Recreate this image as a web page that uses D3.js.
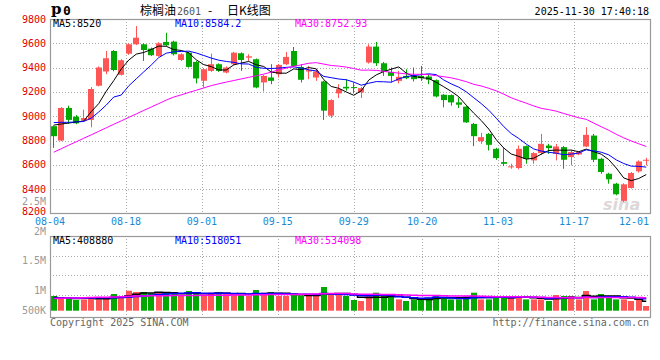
<!DOCTYPE html>
<html><head><meta charset="utf-8">
<script src="https://cdn.jsdelivr.net/npm/d3@7"></script>
<style>body{margin:0;background:#fff}svg{display:block}</style>
</head><body>
<script>
const dates = ["08-04","08-05","08-06","08-07","08-08","08-11","08-12","08-13","08-14","08-15",
"08-18","08-19","08-20","08-21","08-22","08-25","08-26","08-27","08-28","08-29",
"09-01","09-02","09-03","09-04","09-05","09-08","09-09","09-10","09-11","09-12",
"09-15","09-16","09-17","09-18","09-19","09-22","09-23","09-24","09-25","09-26",
"09-29","09-30","10-09","10-10","10-13","10-14","10-15","10-16","10-17",
"10-20","10-21","10-22","10-23","10-24","10-27","10-28","10-29","10-30","10-31",
"11-03","11-04","11-05","11-06","11-07","11-10","11-11","11-12","11-13","11-14",
"11-17","11-18","11-19","11-20","11-21","11-24","11-25","11-26","11-27","11-28","12-01"];
const open = [8918,8800,9068,8997,8964,8970,9251,9368,9537,9341,
9515,9592,9592,9556,9496,9611,9614,9463,9523,9447,
9292,9373,9428,9360,9428,9518,9482,9469,9278,9319,
9346,9428,9537,9406,9368,9319,9286,9005,9188,9242,
9240,9196,9442,9573,9436,9365,9291,9332,9332,
9332,9327,9297,9177,9174,9114,9079,8937,8795,8855,
8732,8623,8582,8574,8754,8637,8697,8759,8691,8746,
8664,8686,8751,8841,8650,8527,8445,8304,8410,8547,8637];
const high = [8925,9075,9087,9010,9054,9240,9410,9537,9545,9470,
9600,9742,9600,9565,9610,9687,9622,9518,9530,9455,
9395,9515,9435,9410,9530,9525,9510,9475,9340,9428,
9430,9529,9570,9428,9414,9387,9292,9140,9264,9305,
9278,9242,9592,9611,9447,9401,9373,9387,9401,
9414,9346,9303,9183,9180,9155,9085,8945,8863,8862,
8740,8738,8609,8759,8760,8705,8855,8773,8773,8755,
8724,8712,8910,8855,8658,8535,8452,8448,8541,8637,8658];
const low = [8740,8795,8937,8935,8958,8909,9245,9346,9370,9335,
9505,9585,9455,9495,9490,9578,9500,9455,9400,9270,
9237,9365,9365,9352,9420,9373,9455,9230,9204,9264,
9319,9420,9405,9278,9305,9291,8970,8986,9150,9210,
9188,9150,9433,9414,9332,9278,9270,9305,9286,
9291,9264,9155,9073,9087,9068,8945,8754,8773,8718,
8642,8590,8568,8563,8609,8609,8683,8691,8637,8568,
8596,8680,8746,8623,8527,8445,8350,8295,8405,8536,8596];
const close = [8836,9068,8970,8942,8985,9224,9401,9477,9380,9461,
9592,9646,9545,9502,9600,9584,9510,9510,9406,9311,
9387,9428,9373,9401,9523,9463,9493,9237,9332,9291,
9422,9488,9414,9300,9379,9368,9046,9133,9223,9229,
9232,9231,9573,9436,9365,9332,9324,9313,9305,
9313,9300,9163,9133,9114,9095,8950,8836,8828,8765,
8656,8609,8588,8732,8650,8697,8773,8738,8751,8642,
8705,8705,8847,8642,8541,8481,8358,8440,8533,8628,8642];
const volume = [625000,565000,565000,455000,480000,565000,480000,565000,710000,595000,
850000,795000,795000,735000,765000,765000,735000,625000,837000,765000,
625000,765000,765000,765000,667000,667000,625000,880000,765000,795000,
625000,625000,710000,625000,625000,625000,1007000,667000,710000,625000,
455000,412000,625000,765000,625000,595000,480000,412000,480000,
480000,552000,667000,595000,480000,480000,595000,765000,480000,480000,
595000,595000,595000,625000,480000,480000,480000,412000,667000,625000,
625000,480000,837000,480000,710000,595000,480000,480000,412000,455000,200000];
// moving-average values before a full window exists
const ma5Head = [8927,8936,8944,8953];
const ma10Head = [8948,8950,8950,8953,8957,8985,9035,9092,9158];
const ma30Head = [8704,8733,8762,8790,8819,8847,8876,8905,8934,8962,8991,9019,9048,9076,9104,
9133,9158,9176,9196,9214,9233,9252,9267,9281,9294,9307,9320,9333,9347];
const vma5Head = [560000,545000,530000,520000];
const vma10Head = [540000,540000,545000,545000,545000,545000,550000,550000,550000];
const vma30Head = [523000,530000,537000,545000,552000,560000,567000,575000,585000,595000,610000,625000,
630000,635000,640000,640000,645000,645000,650000,650000,655000,655000,660000,660000,665000,665000,670000,675000,680000];
const priceTicks = [8200,8400,8600,8800,9000,9200,9400,9600,9800];
const dateTicks = ["08-04","08-18","09-01","09-15","09-29","10-20","11-03","11-17","12-01"];
const volTicks = [500000,1000000,1500000,2000000,2500000];
const volTickLabels = ["500K","1M","1.5M","2M","2.5M"];
const maLegend = ["MA5:8520","MA10:8584.2","MA30:8752.93"];
const volLegend = ["MA5:408880","MA10:518051","MA30:534098"];
const maColors = ["#000000","#0000ff","#ff00ff"];

const W=660,H=360, L=50, R=650, T=19, B=213.5, VT=236, VB=317.5, VBASE=310.7;
const RED="#ff5555", GREEN="#00a800", GRID="#aaaaaa", FRAME="#999999";
const mono="'DejaVu Sans Mono', monospace";

const svg=d3.select("body").append("svg").attr("width",W).attr("height",H);
const xC=d3.scaleBand().domain(dates).range([L,R]);
const xG=d3.scalePoint().domain(dates).range([L,R]);
const y=d3.scaleLinear().domain([8200,9800]).range([B,T]);
const yV=d3.scaleLinear().domain([0,1000000]).range([VBASE,VBASE-1000000/42500]);
const yVLab=d3.scaleLinear().domain(volTicks).range([310.7,290.7,260.7,231,201]);

function ma(vals,n,head){return vals.map((v,i)=> i<n-1 ? head[i] : d3.mean(vals.slice(i-n+1,i+1)));}
const cx=d=>xC(d)+xC.bandwidth()/2;
const up=i=>close[i]>=open[i];

// grid main
const g=svg.append("g");
g.selectAll(".hg").data(priceTicks.slice(1,-1)).join("line")
 .attr("x1",L).attr("x2",R).attr("y1",d=>Math.round(y(d))+0.5).attr("y2",d=>Math.round(y(d))+0.5)
 .attr("stroke",GRID).attr("stroke-dasharray","1,2");
g.selectAll(".vg").data(dateTicks.slice(1,-1)).join("line")
 .attr("x1",d=>Math.round(xG(d))+0.5).attr("x2",d=>Math.round(xG(d))+0.5).attr("y1",T).attr("y2",B)
 .attr("stroke",GRID).attr("stroke-dasharray","1,2");
// grid volume
const vgy=[1,2,3].map(k=>VT+(VB-VT-3)*k/4);
g.selectAll(".vhg").data(vgy).join("line")
 .attr("x1",L).attr("x2",R).attr("y1",d=>Math.round(d)+0.5).attr("y2",d=>Math.round(d)+0.5)
 .attr("stroke",GRID).attr("stroke-dasharray","1,2");
g.selectAll(".vvg").data(dateTicks.slice(1,-1)).join("line")
 .attr("x1",d=>Math.round(xG(d))+0.5).attr("x2",d=>Math.round(xG(d))+0.5).attr("y1",VT).attr("y2",VB)
 .attr("stroke",GRID).attr("stroke-dasharray","1,2");

// watermark
svg.append("text").attr("x",603).attr("y",210).text("sina")
 .attr("font-family","'DejaVu Sans', sans-serif").attr("font-style","italic").attr("font-weight","bold")
 .attr("font-size",16).attr("fill","#d0c8c8").attr("opacity",0.7);

// candles
const idx=d3.range(dates.length);
const cg=svg.append("g");
cg.selectAll("line").data(idx).join("line")
 .attr("x1",i=>Math.floor(cx(dates[i]))+0.5).attr("x2",i=>Math.floor(cx(dates[i]))+0.5)
 .attr("y1",i=>y(high[i])).attr("y2",i=>y(low[i]))
 .attr("stroke",i=>up(i)?RED:GREEN);
cg.selectAll("rect").data(idx).join("rect")
 .attr("x",i=>Math.round(xC(dates[i])+0.75)).attr("width",6)
 .attr("y",i=>y(Math.max(open[i],close[i])))
 .attr("height",i=>Math.max(1,Math.abs(y(open[i])-y(close[i]))))
 .attr("fill",i=>up(i)?RED:GREEN);

// MA lines main
const maSeries=[ma(close,5,ma5Head),ma(close,10,ma10Head),ma(close,30,ma30Head)];
const line=d3.line().x((v,i)=>cx(dates[i])).y(v=>y(v));
maSeries.forEach((s,k)=>svg.append("path").attr("d",line(s)).attr("fill","none")
 .attr("stroke",maColors[k]).attr("stroke-width",1));

// volume bars
svg.append("g").selectAll("rect").data(idx).join("rect")
 .attr("x",i=>Math.round(xC(dates[i])+0.75)).attr("width",6)
 .attr("y",i=>yV(volume[i])).attr("height",i=>VBASE-yV(volume[i]))
 .attr("fill",i=>up(i)?RED:GREEN);
const vmaSeries=[ma(volume,5,vma5Head),ma(volume,10,vma10Head),ma(volume,30,vma30Head)];
const vline=d3.line().curve(d3.curveStep).x((v,i)=>cx(dates[i])).y(v=>yV(v));
vmaSeries.forEach((s,k)=>svg.append("path").attr("d",vline(s)).attr("fill","none")
 .attr("stroke",maColors[k]).attr("stroke-width",1.5));

// frames
svg.append("rect").attr("x",L+0.5).attr("y",T+0.5).attr("width",R-L).attr("height",B-T-0.5)
 .attr("fill","none").attr("stroke",FRAME).attr("stroke-width",1.2);
svg.append("rect").attr("x",L+0.5).attr("y",VT+0.5).attr("width",R-L).attr("height",VB-VT-0.5)
 .attr("fill","none").attr("stroke",FRAME).attr("stroke-width",1.2);

// price labels
svg.append("g").selectAll("text").data(priceTicks).join("text")
 .attr("x",46).attr("y",d=>Math.min(211,Math.max(y(d),17))).attr("dy","0.35em").attr("text-anchor","end")
 .attr("font-family",mono).attr("font-size",10).attr("fill","#e00000").text(d=>d);
// volume labels
svg.append("g").selectAll("text").data(volTicks).join("text")
 .attr("x",46).attr("y",d=>yVLab(d)).attr("dy","0.35em").attr("text-anchor","end")
 .attr("font-family",mono).attr("font-size",10).attr("fill","#9a9a9a").text((d,i)=>volTickLabels[i]);
// date labels
svg.append("g").selectAll("text").data(dateTicks).join("text")
 .attr("x",(d,i)=>i===dateTicks.length-1?649:xG(d)).attr("y",225)
 .attr("text-anchor",(d,i)=>i===dateTicks.length-1?"end":"middle")
 .attr("font-family",mono).attr("font-size",10).attr("fill","#1a8ad4").text(d=>d);

// legends
const legX=[53,175,295];
svg.append("g").selectAll("text").data(maLegend).join("text")
 .attr("x",(d,i)=>legX[i]).attr("y",27).attr("font-family",mono).attr("font-size",10)
 .attr("fill",(d,i)=>maColors[i]).text(d=>d);
svg.append("g").selectAll("text").data(volLegend).join("text")
 .attr("x",(d,i)=>legX[i]).attr("y",VT+8).attr("font-family",mono).attr("font-size",10)
 .attr("fill",(d,i)=>maColors[i]).text(d=>d);

// title
svg.append("text").attr("x",51).attr("y",14).text("p")
 .attr("font-family","'DejaVu Serif', serif").attr("font-weight","bold").attr("font-size",15);
svg.append("text").attr("x",63).attr("y",15).text("0")
 .attr("font-family",mono).attr("font-weight","bold").attr("font-size",13);
const t=svg.append("text").attr("y",15).attr("font-size",12).attr("font-family","'Noto Sans CJK SC', sans-serif");
t.append("tspan").attr("x",140).text("棕榈油");
t.append("tspan").attr("x",177).attr("font-family",mono).attr("font-size",10).attr("fill","#555").text("2601");
t.append("tspan").attr("x",208).text("-");
t.append("tspan").attr("x",227).text("日K线图");
svg.append("text").attr("x",649).attr("y",15).attr("text-anchor","end")
 .attr("font-family",mono).attr("font-size",10).text("2025-11-30 17:40:18");

// footer
svg.append("text").attr("x",50).attr("y",326).attr("font-family",mono).attr("font-size",10)
 .attr("fill","#666").text("Copyright 2025 SINA.COM");
svg.append("text").attr("x",649).attr("y",326).attr("text-anchor","end").attr("font-family",mono)
 .attr("font-size",10).attr("fill","#666").text("http://finance.sina.com.cn");
</script>
</body></html>
